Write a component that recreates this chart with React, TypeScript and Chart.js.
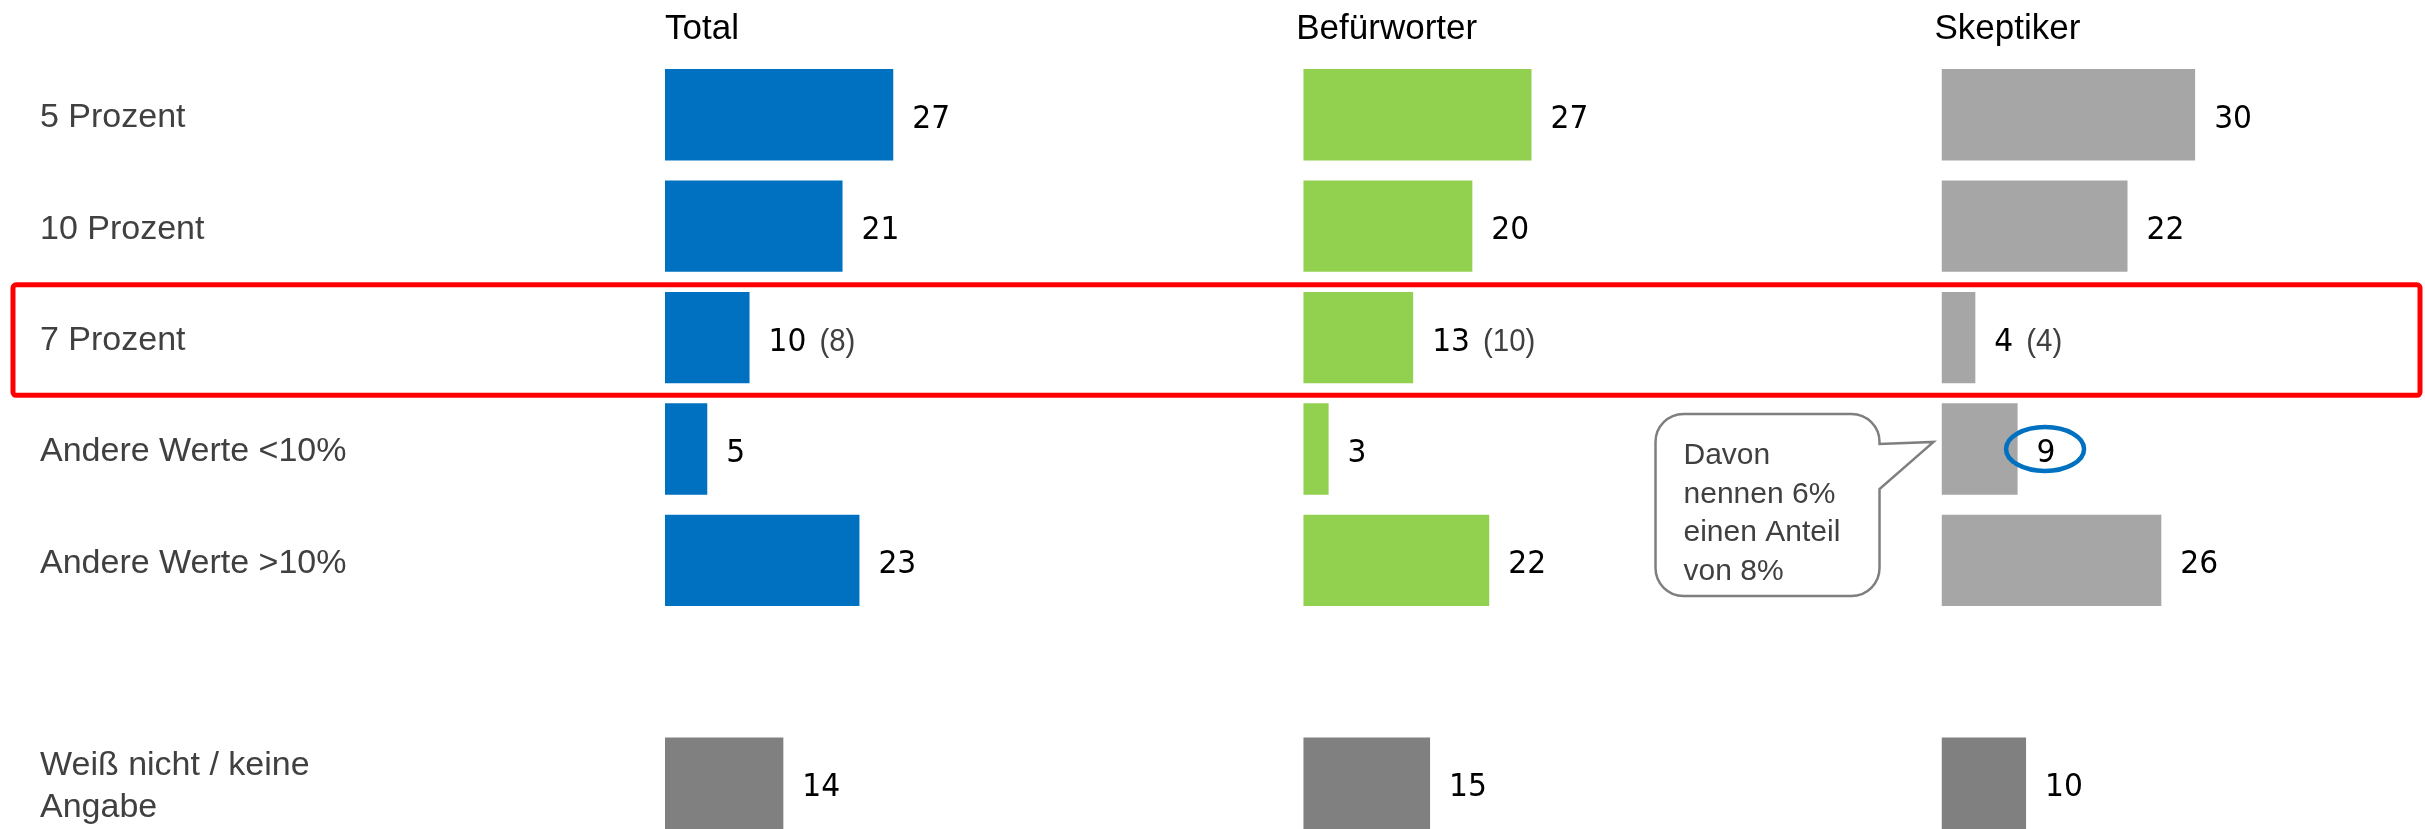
import React, { useEffect, useRef } from 'react';
import { Chart, registerables } from 'chart.js';

Chart.register(...registerables);

// ---------- data ----------
const categories: (string | string[])[] = [
  '5 Prozent',
  '10 Prozent',
  '7 Prozent',
  'Andere Werte <10%',
  'Andere Werte >10%',
  '',
  ['Weiß nicht / keine', 'Angabe'],
];
const groups = ['Total', 'Befürworter', 'Skeptiker'];
const totalValues = [27, 21, 10, 5, 23, null, 14];
const befuerworterValues = [27, 20, 13, 3, 22, null, 15];
const skeptikerValues = [30, 22, 4, 9, 26, null, 10];
const sevenPercentBracket = [8, 10, 4]; // values in brackets for "7 Prozent"
const calloutLines = ['Davon', 'nennen 6%', 'einen Anteil', 'von 8%'];

// ---------- styles ----------
const groupColors = ['#0070C0', '#92D050', '#A6A6A6'];
const dontKnowColor = '#808080';
const axisMax = [75.5, 75.5, 56.6];
const seriesValues = [totalValues, befuerworterValues, skeptikerValues];
const HIGHLIGHT_ROW = 2;
const CALLOUT_ROW = 3;
const DONT_KNOW_ROW = 6;

const SANS = '"Liberation Sans", Arial, sans-serif';
const VALUE_FONT = '32px "DejaVu Sans", Verdana, sans-serif';

// draws text with a slight horizontal compression, returns drawn width
function drawNarrowText(ctx: CanvasRenderingContext2D, txt: string, x: number, y: number, font: string, sx: number) {
  ctx.save();
  ctx.font = font;
  ctx.translate(x, y);
  ctx.scale(sx, 1);
  ctx.fillText(txt, 0, 0);
  const w = ctx.measureText(txt).width * sx;
  ctx.restore();
  return w;
}

const overlayPlugin = {
  id: 'overlay',
  afterDatasetsDraw(chart: any) {
    const ctx = chart.ctx as CanvasRenderingContext2D;
    const yScale = chart.scales.y;
    ctx.save();

    // headers
    ctx.fillStyle = '#000000';
    ctx.font = `35px ${SANS}`;
    ctx.textAlign = 'left';
    ctx.textBaseline = 'alphabetic';
    groups.forEach((g, i) => {
      const sc = chart.scales['x' + i];
      ctx.fillText(g, sc.left - (i === 0 ? 0 : 7), 39);
    });

    // value labels
    ctx.textBaseline = 'alphabetic';
    let nineLabel: { x: number; y: number; w: number } | null = null;
    chart.data.datasets.forEach((ds: any, di: number) => {
      const meta = chart.getDatasetMeta(di);
      meta.data.forEach((el: any, idx: number) => {
        const v = ds.data[idx];
        if (v === null || v === undefined) return;
        const txt = String(v);
        ctx.fillStyle = '#000000';
        const x = el.x + 19;
        const y = el.y;
        const w = drawNarrowText(ctx, txt, x, y + 13, VALUE_FONT, 0.93);
        if (idx === HIGHLIGHT_ROW) {
          ctx.fillStyle = '#404040';
          drawNarrowText(ctx, `(${sevenPercentBracket[di]})`, x + w + 13, y + 13, `32px ${SANS}`, 0.92);
        }
        if (di === 2 && idx === CALLOUT_ROW) nineLabel = { x, y, w };
      });
    });

    // red highlight box around "7 Prozent"
    const c = yScale.getPixelForValue(HIGHLIGHT_ROW);
    const step = yScale.getPixelForValue(1) - yScale.getPixelForValue(0);
    ctx.strokeStyle = '#FF0000';
    ctx.lineWidth = 5;
    ctx.beginPath();
    (ctx as any).roundRect(13, c - step / 2 + 3, 2420 - 13, step - 1, 3);
    ctx.stroke();

    // blue ellipse around "9"
    if (nineLabel) {
      const nl = nineLabel as { x: number; y: number; w: number };
      ctx.strokeStyle = '#0070C0';
      ctx.lineWidth = 4.5;
      ctx.beginPath();
      ctx.ellipse(nl.x + nl.w / 2 - 1, nl.y, 39, 22, 0, 0, Math.PI * 2);
      ctx.stroke();
    }

    // speech bubble
    const sx = chart.scales.x2.left;
    const cy = yScale.getPixelForValue(CALLOUT_ROW);
    const left = sx - 286, right = sx - 62, top = cy - 35, bottom = cy + 147, r = 28;
    ctx.beginPath();
    ctx.moveTo(left + r, top);
    ctx.lineTo(right - r, top);
    ctx.arcTo(right, top, right, top + r, r);
    ctx.lineTo(right, cy - 5);
    ctx.lineTo(sx - 8, cy - 7);
    ctx.lineTo(right, cy + 40);
    ctx.lineTo(right, bottom - r);
    ctx.arcTo(right, bottom, right - r, bottom, r);
    ctx.lineTo(left + r, bottom);
    ctx.arcTo(left, bottom, left, bottom - r, r);
    ctx.lineTo(left, top + r);
    ctx.arcTo(left, top, left + r, top, r);
    ctx.closePath();
    ctx.fillStyle = '#FFFFFF';
    ctx.fill();
    ctx.strokeStyle = '#7F7F7F';
    ctx.lineWidth = 2.5;
    ctx.stroke();

    ctx.fillStyle = '#404040';
    ctx.font = `30px ${SANS}`;
    ctx.textAlign = 'left';
    ctx.textBaseline = 'alphabetic';
    calloutLines.forEach((line, i) => {
      ctx.fillText(line, sx - 258, cy + 15 + i * 38.5);
    });

    ctx.restore();
  },
};

export default function App() {
  const canvasRef = useRef<HTMLCanvasElement | null>(null);

  useEffect(() => {
    document.body.style.margin = '0';
    document.body.style.overflow = 'hidden';
    if (!canvasRef.current) return;

    const datasets = groups.map((g, i) => ({
      label: g,
      data: seriesValues[i],
      xAxisID: 'x' + i,
      yAxisID: 'y',
      backgroundColor: seriesValues[i].map((_, j) => (j === DONT_KNOW_ROW ? dontKnowColor : groupColors[i])),
      borderWidth: 0,
      grouped: false,
      categoryPercentage: 0.82,
      barPercentage: 1,
    }));

    const xScales: any = {};
    groups.forEach((_, i) => {
      xScales['x' + i] = {
        type: 'linear',
        position: 'bottom',
        stack: 'panels',
        stackWeight: axisMax[i],
        min: 0,
        max: axisMax[i],
        display: false,
      };
    });

    const chart = new Chart(canvasRef.current, {
      type: 'bar',
      data: { labels: categories as any, datasets: datasets as any },
      options: {
        indexAxis: 'y',
        responsive: false,
        animation: false,
        layout: { padding: { left: 40, top: 59, right: 5, bottom: 1 } },
        plugins: { legend: { display: false }, tooltip: { enabled: false } },
        scales: {
          y: {
            type: 'category',
            position: 'left',
            grid: { display: false },
            border: { display: false },
            ticks: {
              crossAlign: 'far',
              color: '#404040',
              autoSkip: false,
              padding: 0,
              labelOffset: 3,
              font: { family: SANS, size: 34, lineHeight: 1.24 },
            },
            afterFit: (s: any) => {
              s.width = 625;
              s.paddingTop = 0;
              s.paddingBottom = 0;
            },
          },
          ...xScales,
        },
      } as any,
      plugins: [overlayPlugin],
    });

    return () => chart.destroy();
  }, []);

  return (
    <div style={{ width: 2425, height: 829, overflow: 'hidden', position: 'relative', background: '#fff' }}>
      <canvas ref={canvasRef} width={2425} height={840} />
    </div>
  );
}
